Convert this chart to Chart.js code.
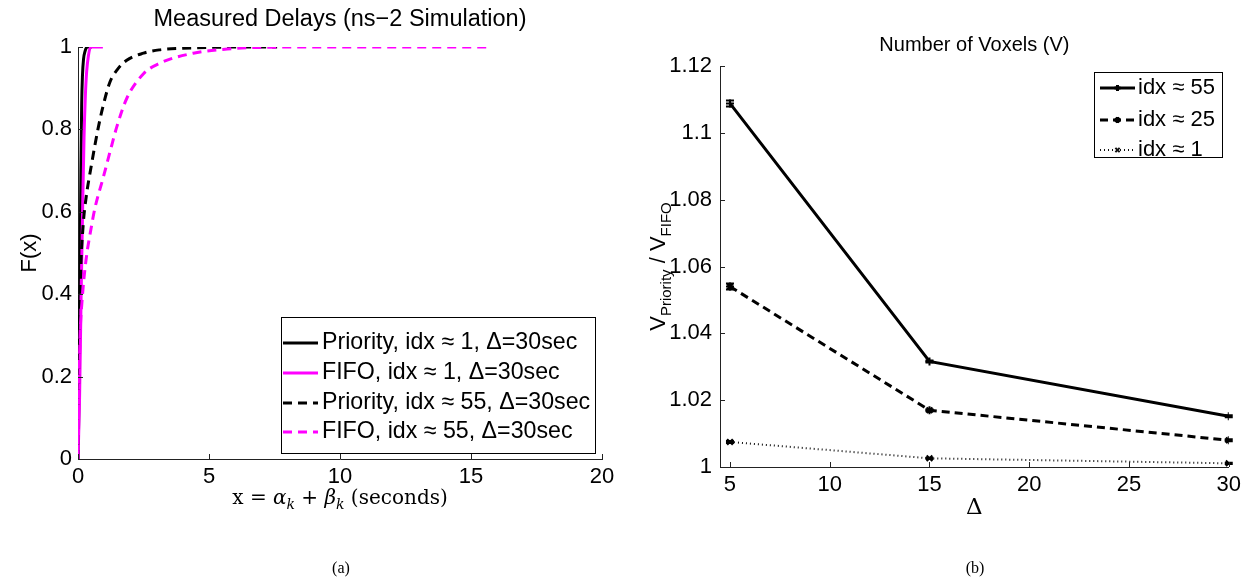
<!DOCTYPE html>
<html>
<head>
<meta charset="utf-8">
<script src="https://cdn.jsdelivr.net/npm/chart.js@4.4.1/dist/chart.umd.min.js"></script>
<style>
  body { margin: 0; background: #fff; }
  #wrap { position: relative; width: 1246px; height: 579px; overflow: hidden; }
  canvas { position: absolute; top: 0; }
  .cap { position: absolute; top: 559px; font: 16px "Liberation Serif", serif; transform: translateX(-50%); }
</style>
</head>
<body>
<div id="wrap">
  <canvas id="cdf" width="620" height="579" style="left:0"></canvas>
  <canvas id="vox" width="626" height="579" style="left:620px"></canvas>
  <div class="cap" style="left:341px">(a)</div>
  <div class="cap" style="left:975px">(b)</div>
</div>
<script>
// (a) CDF of measured delays (seconds)
const prio1X = [0, 0.04, 0.08, 0.11, 0.14, 0.17, 0.21, 0.27, 0.35, 0.53];
const prio1F = [0, 0.15, 0.45, 0.7, 0.86, 0.93, 0.97, 0.99, 1, 1];
const fifo1X = [0, 0.06, 0.12, 0.18, 0.23, 0.28, 0.33, 0.4, 0.48, 0.95];
const fifo1F = [0, 0.15, 0.4, 0.62, 0.78, 0.88, 0.94, 0.98, 1, 1];
const prio55X = [0, 0.02, 0.05, 0.1, 0.2, 0.3, 0.53, 0.76, 0.95, 1.22, 1.5, 1.86, 2.5, 3.1, 4, 5, 6, 7.6];
const prio55F = [0, 0.15, 0.3, 0.45, 0.57, 0.63, 0.72, 0.8, 0.855, 0.915, 0.945, 0.968, 0.985, 0.993, 0.997, 0.999, 1, 1];
const fifo55X = [0, 0.03, 0.08, 0.15, 0.3, 0.5, 0.65, 0.95, 1.22, 1.48, 1.86, 2.5, 3.1, 4.4, 5.7, 6.9, 9, 12, 15.8];
const fifo55F = [0, 0.15, 0.3, 0.38, 0.48, 0.56, 0.61, 0.68, 0.745, 0.806, 0.875, 0.935, 0.96, 0.985, 0.995, 0.999, 1, 1, 1];
const cdfTicksX = [0, 5, 10, 15, 20];
const cdfTicksY = [0, 0.2, 0.4, 0.6, 0.8, 1];
const cdfLabels = ['Priority, idx \u2248 1, \u0394=30sec', 'FIFO, idx \u2248 1, \u0394=30sec',
                   'Priority, idx \u2248 55, \u0394=30sec', 'FIFO, idx \u2248 55, \u0394=30sec'];

// (b) voxel ratio vs. delta
const deltas = [5, 15, 30];
const ratio55 = [1.1088, 1.0316, 1.0152];
const err55 = [0.0009, 0.0003, 0.0003];
const ratio25 = [1.054, 1.017, 1.008];
const err25 = [0.0009, 0.0003, 0.0003];
const ratio1 = [1.0075, 1.0026, 1.0011];
const err1 = [0.0003, 0.0002, 0.0002];
const voxTicksX = [5, 10, 15, 20, 25, 30];
const voxTicksY = [1, 1.02, 1.04, 1.06, 1.08, 1.1, 1.12];
const voxLabels = ['idx \u2248 55', 'idx \u2248 25', 'idx \u2248 1'];

const sans = '"Liberation Sans", Arial, sans-serif';
const serif = '"DejaVu Serif", "Liberation Serif", serif';
const MAG = '#ff00ff';
Chart.defaults.font.family = sans;
Chart.defaults.color = '#000';

function pts(xs, ys) {
  return xs.map((x, i) => ({ x: x, y: ys[i] }));
}

function axis(min, max, tickVals, fit, pad) {
  return {
    type: 'linear', min: min, max: max,
    afterBuildTicks: s => { s.ticks = tickVals.map(v => ({ value: v })); },
    afterFit: fit,
    grid: { drawOnChartArea: false, drawTicks: false },
    border: { color: '#222', width: 1 },
    ticks: { font: { size: 22 }, color: '#000', padding: pad, callback: v => String(+v.toFixed(2)) }
  };
}

// MATLAB style ticks pointing into the plot
function inwardTicks(chart) {
  const { ctx, chartArea: a, scales: { x, y } } = chart;
  ctx.save();
  ctx.strokeStyle = '#222';
  ctx.lineWidth = 1;
  ctx.beginPath();
  x.ticks.forEach(t => {
    const px = Math.round(x.getPixelForValue(t.value)) + 0.5;
    ctx.moveTo(px, a.bottom); ctx.lineTo(px, a.bottom - 5);
  });
  y.ticks.forEach(t => {
    const py = Math.round(y.getPixelForValue(t.value)) + 0.5;
    ctx.moveTo(a.left, py); ctx.lineTo(a.left + 5, py);
  });
  ctx.stroke();
  ctx.restore();
}

function legendBox(chart, box, rowY, lineX0, lineX1, textX, size) {
  const ctx = chart.ctx;
  ctx.save();
  ctx.fillStyle = '#fff';
  ctx.fillRect(box.x, box.y, box.w, box.h);
  ctx.strokeStyle = '#000';
  ctx.lineWidth = 1;
  ctx.strokeRect(box.x + 0.5, box.y + 0.5, box.w, box.h);
  chart.data.datasets.forEach((ds, i) => {
    const y = rowY[i];
    ctx.strokeStyle = ds.borderColor;
    ctx.lineWidth = ds.borderWidth;
    ctx.setLineDash(ds.borderDash || []);
    ctx.beginPath();
    ctx.moveTo(lineX0, y); ctx.lineTo(lineX1, y);
    ctx.stroke();
    ctx.setLineDash([]);
    if (ds.pointStyle && ds.pointRadius) {
      Chart.helpers.drawPoint(ctx, { pointStyle: ds.pointStyle, radius: 3, borderWidth: 1 }, (lineX0 + lineX1) / 2, y);
    }
    ctx.fillStyle = '#000';
    ctx.font = size + 'px ' + sans;
    ctx.textBaseline = 'middle';
    ctx.textAlign = 'left';
    ctx.fillText(ds.label, textX, y);
  });
  ctx.restore();
}

// draws a run of [text, style] pieces; style: 'n' normal, 'i' italic, 's' italic subscript, 'ns' normal subscript
function richText(ctx, pieces, cx, cy, size, family) {
  const fontOf = st => (st === 'i' || st === 's' ? 'italic ' : '') + Math.round(st === 's' || st === 'ns' ? size * 0.7 : size) + 'px ' + family;
  let w = 0;
  pieces.forEach(([t, st]) => { ctx.font = fontOf(st); w += ctx.measureText(t).width; });
  let x = cx - w / 2;
  ctx.textAlign = 'left';
  ctx.textBaseline = 'alphabetic';
  pieces.forEach(([t, st]) => {
    ctx.font = fontOf(st);
    ctx.fillText(t, x, cy + (st === 's' || st === 'ns' ? size * 0.25 : 0));
    x += ctx.measureText(t).width;
  });
}

const cdfDecor = {
  id: 'cdfDecor',
  afterDraw(chart) {
    const ctx = chart.ctx;
    const a = chart.chartArea;
    inwardTicks(chart);
    legendBox(chart, { x: 281, y: 317, w: 314, h: 136 }, [343, 373, 403, 432], 283, 318, 322, 23.2);
    ctx.save();
    ctx.fillStyle = '#000';
    ctx.font = '23.5px ' + sans;
    ctx.textAlign = 'center';
    ctx.textBaseline = 'middle';
    ctx.fillText('Measured Delays (ns\u22122 Simulation)', (a.left + a.right) / 2, 20);
    ctx.font = '22px ' + sans;
    ctx.save();
    ctx.translate(30, (a.top + a.bottom) / 2);
    ctx.rotate(-Math.PI / 2);
    ctx.fillText('F(x)', 0, 0);
    ctx.restore();
    richText(ctx, [['x = ', 'n'], ['\u03b1', 'i'], ['k', 's'], [' + ', 'n'], ['\u03b2', 'i'], ['k', 's'], [' (seconds)', 'n']],
      (a.left + a.right) / 2, 504, 20, serif);
    ctx.restore();
  }
};

const cdfSet = (label, xs, ys, color, dash, order) => ({
  label: label, data: pts(xs, ys), borderColor: color, borderWidth: 3, borderDash: dash,
  showLine: true, pointRadius: 0, cubicInterpolationMode: 'monotone', order: order
});

new Chart(document.getElementById('cdf'), {
  type: 'scatter',
  data: {
    datasets: [
      cdfSet(cdfLabels[0], prio1X, prio1F, '#000', [], 3),
      cdfSet(cdfLabels[1], fifo1X, fifo1F, MAG, [], 2),
      cdfSet(cdfLabels[2], prio55X, prio55F, '#000', [9, 6], 1),
      cdfSet(cdfLabels[3], fifo55X, fifo55F, MAG, [9, 6], 0)
    ]
  },
  options: {
    responsive: false, animation: false, devicePixelRatio: 1,
    layout: { padding: { left: 38, right: 18, top: 47, bottom: 90 } },
    plugins: { legend: { display: false }, tooltip: { enabled: false } },
    scales: {
      x: axis(0, 20, cdfTicksX, s => { s.height = 30; }, 5),
      y: axis(0, 1, cdfTicksY, s => { s.width = 40; }, 6)
    }
  },
  plugins: [cdfDecor]
});

const voxErrs = [err55, err25, err1];

const voxDecor = {
  id: 'voxDecor',
  afterDatasetsDraw(chart) {
    const ctx = chart.ctx;
    const { x, y } = chart.scales;
    ctx.save();
    ctx.strokeStyle = '#000';
    ctx.lineWidth = 2;
    chart.data.datasets.forEach((ds, i) => {
      ds.data.forEach((p, j) => {
        const px = x.getPixelForValue(p.x);
        const top = y.getPixelForValue(p.y + voxErrs[i][j]);
        const bot = y.getPixelForValue(p.y - voxErrs[i][j]);
        ctx.beginPath();
        ctx.moveTo(px, top); ctx.lineTo(px, bot);
        ctx.moveTo(px - 4, top); ctx.lineTo(px + 4, top);
        ctx.moveTo(px - 4, bot); ctx.lineTo(px + 4, bot);
        ctx.stroke();
      });
    });
    ctx.restore();
  },
  afterDraw(chart) {
    const ctx = chart.ctx;
    const a = chart.chartArea;
    inwardTicks(chart);
    legendBox(chart, { x: 474, y: 72, w: 128, h: 85 }, [88, 120, 150], 480, 515, 518, 22);
    ctx.save();
    ctx.fillStyle = '#000';
    ctx.font = '20px ' + sans;
    ctx.textAlign = 'center';
    ctx.textBaseline = 'middle';
    ctx.fillText('Number of Voxels (V)', (a.left + a.right) / 2, 45);
    ctx.font = '23px ' + serif;
    ctx.fillText('\u0394', (a.left + a.right) / 2, 508);
    ctx.save();
    ctx.translate(45, (a.top + a.bottom) / 2);
    ctx.rotate(-Math.PI / 2);
    richText(ctx, [['V', 'n'], ['Priority', 'ns'], [' / V', 'n'], ['FIFO', 'ns']], 0, 0, 22, sans);
    ctx.restore();
    ctx.restore();
  }
};

const voxSet = (label, ys, dash, width, color, style) => ({
  label: label, data: pts(deltas, ys), borderColor: color, borderWidth: width, borderDash: dash,
  showLine: true, pointStyle: style, pointRadius: 4, pointBorderWidth: 2,
  pointBorderColor: '#000', pointBackgroundColor: '#000'
});

new Chart(document.getElementById('vox'), {
  type: 'scatter',
  data: {
    datasets: [
      voxSet(voxLabels[0], ratio55, [], 3, '#000', 'cross'),
      voxSet(voxLabels[1], ratio25, [8, 5], 3, '#000', 'star'),
      voxSet(voxLabels[2], ratio1, [1, 3], 2, '#111', 'crossRot')
    ]
  },
  options: {
    responsive: false, animation: false, devicePixelRatio: 1,
    layout: { padding: { left: 40, right: 16, top: 66, bottom: 82 } },
    plugins: { legend: { display: false }, tooltip: { enabled: false } },
    scales: {
      x: axis(4.5, 30, voxTicksX, s => { s.height = 30; }, 5),
      y: axis(1, 1.12, voxTicksY, s => { s.width = 60; }, 8)
    }
  },
  plugins: [voxDecor]
});
</script>
</body>
</html>
